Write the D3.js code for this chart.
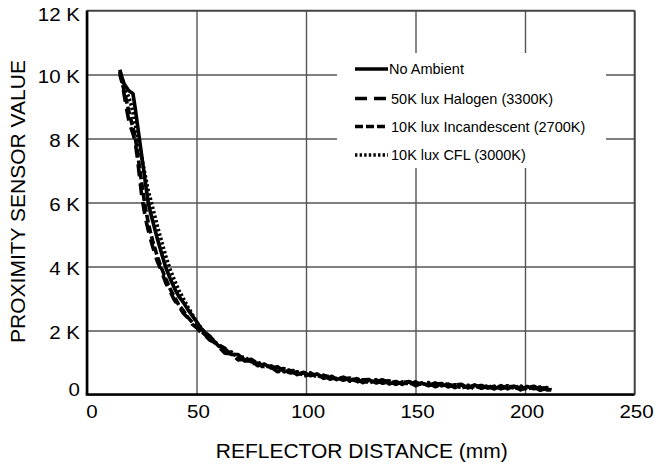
<!DOCTYPE html>
<html>
<head>
<meta charset="utf-8">
<script src="https://cdn.jsdelivr.net/npm/d3@7"></script>
<style>
  body { margin: 0; background: #fff; }
  text { font-family: "Liberation Sans", Arial, Helvetica, sans-serif; fill: #000; }
  .grid line { stroke: #555; stroke-width: 1.4; }
  .grid .domain { display: none; }
  .curve { fill: none; stroke: #000; stroke-width: 3.6; stroke-linejoin: round; }
</style>
</head>
<body>
<svg width="655" height="465"></svg>
<script>

/*Distances in mm, shared by all four measurements*/
var distanceMm = [15,16,17,18,19,20,21,22,23,24,25,26,27,28,29,30,
  32,34,36,38,40,42,44,46,48,50,52,54,56,58,60,
  63,66,69,72,75,78,81,84,87,90,93,96,99,102,105,108,111,114,117,120,
  123,126,129,132,135,138,141,144,147,150,153,156,159,162,165,168,171,174,177,180,
  183,186,189,192,195,198,201,204,207,210,212];

var noAmbient = [10150,9900,9700,9600,9500,9450,9400,8950,8450,7950,7450,6950,6450,5980,5680,5420,
  4900,4420,3960,3620,3310,3060,2880,2660,2470,2280,2070,1930,1830,1660,1520,
  1420,1250,1250,1050,1050,900,950,830,870,720,750,620,695,585,645,505,550,465,545,435,
  495,370,445,380,460,328,406,325,395,275,355,275,362,270,328,216,296,218,300,194,
  248,172,278,184,250,146,252,178,222,146,150];

var halogen = [10100,9800,9350,8950,8600,8350,8150,7900,7400,6800,6200,5780,5420,5120,4860,4620,
  4180,3860,3480,3220,2940,2760,2540,2400,2200,2090,1940,1840,1700,1640,1500,
  1290,1270,1080,1100,970,980,820,860,710,750,670,710,575,635,555,605,480,535,445,515,
  385,450,385,460,350,408,316,395,325,395,285,345,242,340,248,306,206,268,180,274,
  198,272,178,274,190,236,152,238,132,206,140];

var incandescent = [10000,9750,9480,9180,8880,8600,8330,8040,7600,7080,6600,6120,5720,5360,5060,4800,
  4340,3950,3610,3290,3040,2790,2620,2420,2260,2110,1990,1860,1760,1640,1560,
  1440,1260,1230,1060,1100,970,870,890,780,810,730,640,675,675,555,575,580,485,495,505,
  415,460,465,360,410,428,336,375,405,315,365,285,322,340,238,296,316,208,250,284,
  208,262,188,234,260,166,212,258,162,216,160];

var cfl = [10050,9850,9650,9460,9300,9100,8800,8450,8100,7750,7400,7050,6700,6360,6100,5840,
  5300,4800,4320,3900,3560,3250,3000,2740,2520,2260,2100,1900,1800,1680,1540,
  1360,1330,1150,1170,1020,1020,870,890,820,710,780,700,605,655,595,525,590,495,515,415,
  485,440,365,430,450,358,396,315,365,385,305,375,272,300,318,246,226,288,260,204,
  278,202,248,184,220,266,172,218,232,166,150];

var seriesNames = ["No Ambient", "50K lux Halogen (3300K)", "10K lux Incandescent (2700K)", "10K lux CFL (3000K)"];
var seriesDash = ["none", "12,7", "8,3", "2.4,2.2"];

var xTicks = [0, 50, 100, 150, 200, 250];
var yTicks = [0, 2000, 4000, 6000, 8000, 10000, 12000];

var svg = d3.select("svg"),
    margin = {top: 10.5, right: 20.5, bottom: 70.5, left: 87},
    width = +svg.attr("width") - margin.left - margin.right,
    height = +svg.attr("height") - margin.top - margin.bottom;

var x = d3.scaleLinear().domain([0, 250]).range([0, width]),
    y = d3.scaleLinear().domain([0, 12000]).range([height, 0]);

var g = svg.append("g")
    .attr("transform", "translate(" + margin.left + "," + margin.top + ")");

/*Gridlines are made with the axes, ticks stretched across the plot*/
g.append("g")
    .attr("class", "grid")
    .attr("transform", "translate(0," + height + ")")
    .call(d3.axisBottom(x).tickValues(xTicks).tickSize(-height).tickFormat(""));

g.append("g")
    .attr("class", "grid")
    .call(d3.axisLeft(y).tickValues(yTicks).tickSize(-width).tickFormat(""));

/*Top and right frame lines*/
g.append("line").attr("x1", 0).attr("x2", width).attr("y1", 0).attr("y2", 0)
    .attr("stroke", "#444").attr("stroke-width", 1.6);
g.append("line").attr("x1", width).attr("x2", width).attr("y1", 0).attr("y2", height)
    .attr("stroke", "#444").attr("stroke-width", 1.6);

/*Tick labels, slightly widened like the original typeface.
  Labels at the ends are kept inside the frame*/
g.selectAll(".xlabel")
  .data(xTicks)
  .enter().append("text")
    .attr("class", "xlabel")
    .attr("transform", function(d) {
      return "translate(" + Math.max(x(d) + 2, 5) + "," + (height + 23.5) + ") scale(1.08,1)";
    })
    .attr("text-anchor", "middle")
    .style("font-size", "19px")
    .text(function(d) { return d; });

g.selectAll(".ylabel")
  .data(yTicks)
  .enter().append("text")
    .attr("class", "ylabel")
    .attr("transform", function(d) {
      var c = Math.min(Math.max(y(d) + 2, 4), height - 5);
      return "translate(-7," + (c + 6.8) + ") scale(1.08,1)";
    })
    .attr("text-anchor", "end")
    .style("font-size", "19px")
    .text(function(d) { return d === 0 ? "0" : (d / 1000) + " K"; });

/*Axis titles*/
svg.append("text")
    .attr("x", margin.left + width / 2 + 1)
    .attr("y", 458.3)
    .attr("text-anchor", "middle")
    .style("font-size", "21px")
    .text("REFLECTOR DISTANCE (mm)");

svg.append("text")
    .attr("transform", "translate(25," + (margin.top + height / 2 - 1) + ") rotate(-90)")
    .attr("text-anchor", "middle")
    .style("font-size", "21px")
    .text("PROXIMITY SENSOR VALUE");

/*The four measured curves*/
var allSeries = [noAmbient, halogen, incandescent, cfl];

var line = d3.line()
    .x(function(d) { return x(d[0]); })
    .y(function(d) { return y(d[1]); });

g.selectAll(".curve")
  .data(allSeries)
  .enter().append("path")
    .attr("class", "curve")
    .attr("stroke-dasharray", function(d, i) { return seriesDash[i]; })
    .attr("d", function(vals) { return line(d3.zip(distanceMm, vals)); });

/*Left and bottom axis lines, drawn on top*/
g.append("line").attr("x1", 0).attr("x2", 0).attr("y1", 0).attr("y2", height)
    .attr("stroke", "#000").attr("stroke-width", 2.6);
g.append("line").attr("x1", -1.3).attr("x2", width).attr("y1", height).attr("y2", height)
    .attr("stroke", "#000").attr("stroke-width", 2.6);

/*Legend with a white box that hides the gridlines behind it*/
var legend = svg.append("g");

legend.append("rect")
    .attr("x", 337).attr("y", 53)
    .attr("width", 269).attr("height", 115)
    .attr("fill", "#fff");

var item = legend.selectAll(".item")
  .data(seriesNames)
  .enter().append("g")
    .attr("class", "item")
    .attr("transform", function(d, i) { return "translate(355," + [69, 98.5, 126.5, 155][i] + ")"; });

item.append("line")
    .attr("class", "curve")
    .attr("x1", 0).attr("x2", 33)
    .attr("stroke-dasharray", function(d, i) { return seriesDash[i]; });

item.append("text")
    .attr("x", function(d, i) { return i === 0 ? 34 : 36; })
    .attr("y", 5)
    .style("font-size", "14.5px")
    .text(function(d) { return d; });

</script>
</body>
</html>
